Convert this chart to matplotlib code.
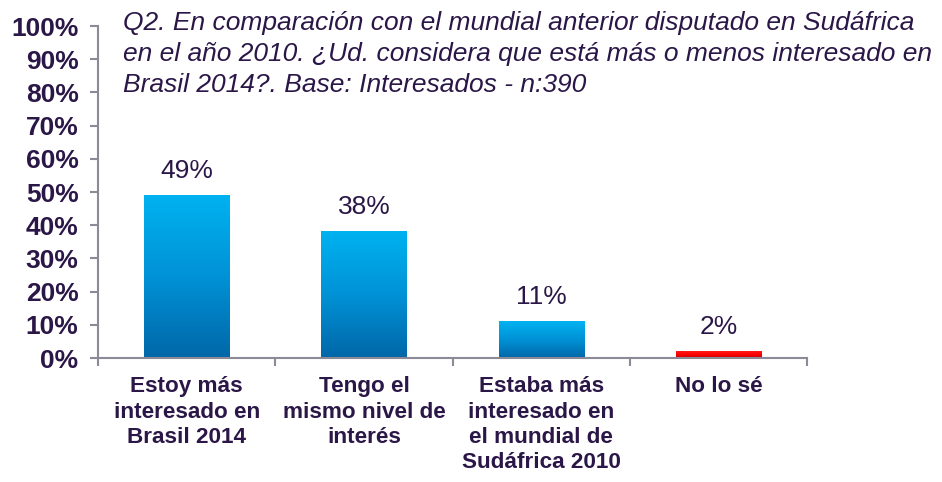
import numpy as np
import matplotlib
matplotlib.use('Agg')
import matplotlib.pyplot as plt
from matplotlib.colors import LinearSegmentedColormap

plt.rcParams['font.family'] = ['Liberation Sans', 'DejaVu Sans']

# datos
categorias = ['Estoy más\ninteresado en\nBrasil 2014',
              'Tengo el\nmismo nivel de\ninterés',
              'Estaba más\ninteresado en\nel mundial de\nSudáfrica 2010',
              'No lo sé']
valores = [49, 38, 11, 2]
etiquetas = ['49%', '38%', '11%', '2%']
y_ticks = [0, 10, 20, 30, 40, 50, 60, 70, 80, 90, 100]
titulo = ('Q2. En comparación con el mundial anterior disputado en Sudáfrica\n'
          'en el año 2010. ¿Ud. considera que está más o menos interesado en\n'
          'Brasil 2014?. Base: Interesados - n:390')

TXT = '#2B1747'
EJE = '#8C8A96'

azul = LinearSegmentedColormap.from_list('azul', ['#0067A8', '#0092D6', '#00B2F0'])
rojo = LinearSegmentedColormap.from_list('rojo', ['#C00000', '#FF0000', '#FF1A1A'])

fig = plt.figure(figsize=(9.42, 4.82), dpi=100)
ax = fig.add_axes([0.104, 0.257, 0.753, 0.689])

x = np.arange(len(valores))
ancho = 0.48
grad = np.linspace(0, 1, 256).reshape(-1, 1)
for i, v in enumerate(valores):
    cmap = rojo if i == 3 else azul
    ax.imshow(grad, cmap=cmap, origin='lower', aspect='auto',
              extent=[x[i] - ancho / 2, x[i] + ancho / 2, 0, v], zorder=2)
    ax.annotate(etiquetas[i], (x[i], v), xytext=(0, 9), textcoords='offset points',
                ha='center', va='bottom', fontsize=19, color=TXT)

ax.set_xlim(-0.5, 3.5)
ax.set_ylim(0, 100)
ax.set_yticks(y_ticks)
ax.set_yticklabels([f'{t}%' for t in y_ticks], fontsize=19, fontweight='bold', color=TXT)
ax.set_xticks(x)
ax.set_xticklabels(categorias, fontsize=16.2, fontweight='bold', color=TXT, linespacing=1.27, va='top')
ax.set_xticks(np.arange(-0.5, 4, 1), minor=True)
ax.tick_params(axis='x', which='major', length=0, pad=13)
ax.tick_params(axis='x', which='minor', length=6, color=EJE, width=1.5, direction='out')
ax.tick_params(axis='y', length=6, color=EJE, width=1.5, pad=8)

for s in ['top', 'right']:
    ax.spines[s].set_visible(False)
for s in ['left', 'bottom']:
    ax.spines[s].set_color(EJE)
    ax.spines[s].set_linewidth(1.5)

fig.text(0.131, 0.978, titulo, ha='left', va='top', fontsize=19, style='italic',
         color=TXT, linespacing=1.38)

fig.savefig('out.png', dpi=100)
